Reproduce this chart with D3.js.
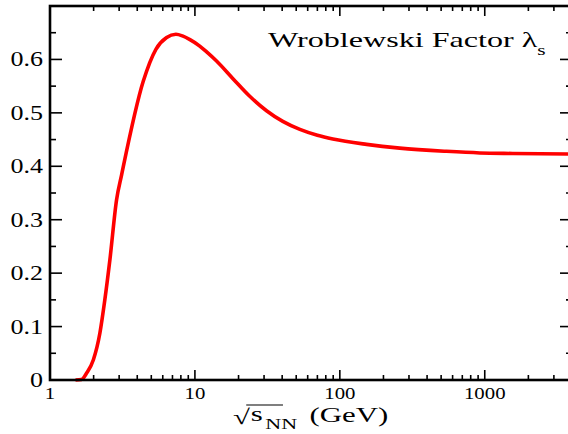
<!DOCTYPE html>
<html><head><meta charset="utf-8">
<script src="https://cdn.jsdelivr.net/npm/d3@7"></script>
<style>body{margin:0;background:#fff}svg{display:block}text{font-family:"Liberation Serif","Times New Roman",serif;fill:#000}</style>
</head><body><svg id="c" width="568" height="434"></svg>
<script>
const sqrtS = [1.5, 1.65, 1.79, 1.99, 2.21, 2.39, 2.59, 2.88, 3.12, 4.4, 5.38, 6.38, 7.39, 8.2, 9.24, 10.8, 12.05, 14.1, 18.3, 23.9, 31.2, 40.4, 53, 70, 89.5, 153, 259, 544, 924, 1560, 4000];
const lambdaS = [0, 0.001, 0.013, 0.0375, 0.088, 0.15, 0.225, 0.3375, 0.384, 0.559, 0.619, 0.641, 0.647, 0.644, 0.637, 0.625, 0.614, 0.597, 0.564, 0.531, 0.504, 0.484, 0.469, 0.458, 0.451, 0.441, 0.434, 0.428, 0.425, 0.424, 0.423];
const xTickValues = [1, 10, 100, 1000];
const xTickLabels = ["1", "10", "100", "1000"];
const yTickValues = [0, 0.1, 0.2, 0.3, 0.4, 0.5, 0.6];
const yTickLabels = ["0", "0.1", "0.2", "0.3", "0.4", "0.5", "0.6"];

const L = 50, R = 572, T = 6, B = 380;
const svg = d3.select("#c");
const x = d3.scaleLog().domain([1, 4000]).range([L, R]);
const y = d3.scaleLinear().domain([0, 0.7]).range([B, T]);

const xMinor = [];
for (let d = 1; d <= 1000; d *= 10) for (let k = 2; k <= 9; k++) if (d * k <= 4000) xMinor.push(d * k);
const yMinor = d3.range(0.05, 0.7, 0.1);

const tickG = svg.append("g").attr("stroke", "#000").attr("stroke-width", 1.6);
[[B, -1], [T, 1]].forEach(([yy, dir]) => {
  xTickValues.forEach(v => tickG.append("line").attr("x1", x(v)).attr("x2", x(v)).attr("y1", yy).attr("y2", yy + dir * 10));
  xMinor.forEach(v => tickG.append("line").attr("x1", x(v)).attr("x2", x(v)).attr("y1", yy).attr("y2", yy + dir * 5));
});
[[L, 1], [R, -1]].forEach(([xx, dir]) => {
  yTickValues.forEach(v => tickG.append("line").attr("y1", y(v)).attr("y2", y(v)).attr("x1", xx).attr("x2", xx + dir * 12));
  yMinor.forEach(v => tickG.append("line").attr("y1", y(v)).attr("y2", y(v)).attr("x1", xx).attr("x2", xx + dir * 6));
});

const line = d3.line().x((d, i) => x(sqrtS[i])).y(d => y(d)).curve(d3.curveMonotoneX);
svg.append("path").attr("d", line(lambdaS)).attr("fill", "none").attr("stroke", "#ff0000").attr("stroke-width", 3.6).attr("stroke-linejoin", "round");

svg.append("rect").attr("x", L).attr("y", T).attr("width", R - L).attr("height", B - T)
  .attr("fill", "none").attr("stroke", "#000").attr("stroke-width", 2.6);

xTickValues.forEach((v, i) => {
  svg.append("text").attr("transform", `translate(${x(v)},399) scale(1.3,1)`)
    .attr("text-anchor", "middle").attr("font-size", 16).text(xTickLabels[i]);
});
yTickValues.forEach((v, i) => {
  svg.append("text").attr("transform", `translate(43,${y(v) + 7}) scale(1.3,1)`)
    .attr("text-anchor", "end").attr("font-size", 20).text(yTickLabels[i]);
});

const tt = svg.append("text").attr("transform", "translate(268,47) scale(1.53,1)").attr("font-size", 21);
tt.append("tspan").text("Wroblewski Factor λ");
tt.append("tspan").attr("font-size", 14).attr("dy", 8).text("s");

const xl = svg.append("g").attr("transform", "translate(233,423) scale(1.47,1)");
xl.append("text").attr("font-size", 21).attr("x", 0).attr("y", 1).text("√");
xl.append("text").attr("font-size", 21).attr("x", 12).attr("y", -2).text("s");
xl.append("line").attr("x1", 9).attr("x2", 34).attr("y1", -18).attr("y2", -18).attr("stroke", "#000").attr("stroke-width", 1);
xl.append("text").attr("font-size", 15).attr("x", 22).attr("y", 6).text("NN");
xl.append("text").attr("font-size", 21).attr("x", 52).attr("y", -1).text("(GeV)");
</script></body></html>
